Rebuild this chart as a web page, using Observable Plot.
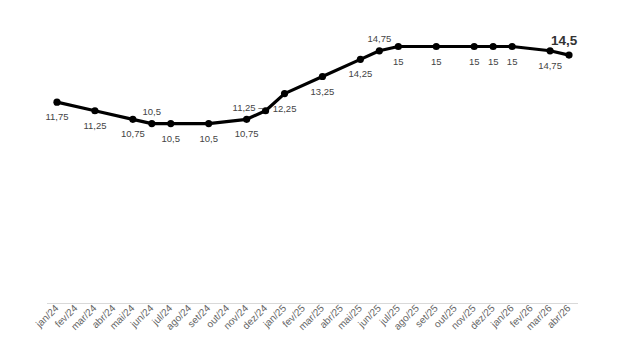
<!DOCTYPE html>
<html>
<head>
<meta charset="utf-8">
<script src="https://cdn.jsdelivr.net/npm/d3@7"></script>
<script src="https://cdn.jsdelivr.net/npm/@observablehq/plot@0.6"></script>
<style>
  html, body { margin: 0; padding: 0; background: #fff; }
  #chart { width: 637px; height: 353px; }
</style>
</head>
<body>
<div id="chart"></div>
<script>
// x-axis categories (months)
const months = ["jan/24","fev/24","mar/24","abr/24","mai/24","jun/24","jul/24","ago/24","set/24","out/24","nov/24","dez/24",
  "jan/25","fev/25","mar/25","abr/25","mai/25","jun/25","jul/25","ago/25","set/25","out/25","nov/25","dez/25",
  "jan/26","fev/26","mar/26","abr/26"];
// months with a value (meeting months)
const meetingMonths = ["jan/24","mar/24","mai/24","jun/24","jul/24","set/24","nov/24","dez/24","jan/25","mar/25","mai/25","jun/25",
  "jul/25","set/25","nov/25","dez/25","jan/26","mar/26","abr/26"];
// rate values (%)
const rates = [11.75, 11.25, 10.75, 10.5, 10.5, 10.5, 10.75, 11.25, 12.25, 13.25, 14.25, 14.75,
  15, 15, 15, 15, 15, 14.75, 14.5];
// labels drawn above the point
const labelsAbove = ["jun/24", "jun/25"];
const labelLeft = ["dez/24"];
const highlighted = ["abr/26"];

const data = meetingMonths.map((m, i) => ({month: m, value: rates[i], label: String(rates[i]).replace(".", ",")}));
const below = data.filter(d => !labelsAbove.includes(d.month) && !labelLeft.includes(d.month) && !highlighted.includes(d.month));
const above = data.filter(d => labelsAbove.includes(d.month));
const left = data.filter(d => labelLeft.includes(d.month));
const hi = data.filter(d => highlighted.includes(d.month));

const chart = Plot.plot({
  width: 637,
  height: 353,
  marginLeft: 47,
  marginRight: 59,
  marginTop: 46,
  marginBottom: 50,
  style: {fontFamily: "'Liberation Sans', Arial, sans-serif", background: "#fff"},
  x: {type: "point", domain: months, padding: 0.5, round: false, label: null},
  y: {domain: [0, 15], axis: null},
  marks: [
    Plot.ruleY([0], {stroke: "#d9d9d9", strokeWidth: 1}),
    Plot.axisX({tickRotate: -45, tickSize: 0, tickPadding: 3, fontSize: 10, fill: "#666", label: null}),
    Plot.line(data, {x: "month", y: "value", stroke: "#000", strokeWidth: 3.2}),
    Plot.dot(data, {x: "month", y: "value", r: 3.6, fill: "#000"}),
    Plot.text(below, {x: "month", y: "value", text: "label", dy: 15, fontSize: 9.5, fill: "#444"}),
    Plot.text(above, {x: "month", y: "value", text: "label", dy: -12, fontSize: 9.5, fill: "#444"}),
    Plot.text(left, {x: "month", y: "value", text: d => d.label + " \u2013", dx: -2, dy: -3, textAnchor: "end", fontSize: 9.5, fill: "#444"}),
    Plot.text(hi, {x: "month", y: "value", text: "label", dx: -5, dy: -14, fontSize: 13.5, fontWeight: "bold", fill: "#333"})
  ]
});
document.getElementById("chart").append(chart);
</script>
</body>
</html>
